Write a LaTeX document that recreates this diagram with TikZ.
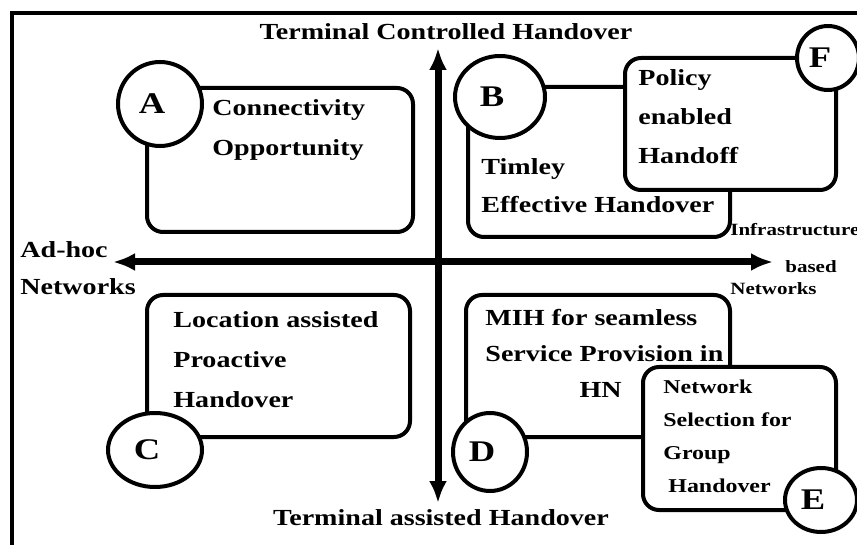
\documentclass[tikz,border=0pt]{standalone}
\usepackage{fontspec}
\setmainfont{Liberation Serif}[FakeStretch=1.22]
\usetikzlibrary{arrows.meta,shapes.geometric,fit}

\begin{document}
\begin{tikzpicture}[x=0.5pt, y=-0.5pt,
	txt/.style={font=\fontsize{11.5}{20}\selectfont\bfseries, inner sep=0, align=left, anchor=west},
	txtE/.style={font=\fontsize{9.8}{16.5}\selectfont\bfseries, inner sep=0, align=left, anchor=west},
	smalltxt/.style={font=\fontsize{8.6}{14}\selectfont\bfseries, inner sep=0, anchor=west},
	axistxt/.style={font=\fontsize{11.5}{20}\selectfont\bfseries, inner sep=0},
	area/.style={draw, line width=2pt, rounded corners=8pt, fill=white, inner sep=0},
	ring/.style={ellipse, draw, line width=2pt, fill=white, inner sep=0},
	letter/.style={font=\fontsize{15}{15}\selectfont\bfseries, xshift=-4pt},
	axis/.style={line width=3.5pt, {Latex[length=11pt,width=9pt]}-{Latex[length=11pt,width=9pt]}}
]
\useasboundingbox (0,0) rectangle (857,545);
% frame (cut at right and bottom)
\draw[line width=2.2pt] (12,570) |- (880,13);

% axes
\coordinate (west) at (113,262);
\coordinate (east) at (773,262);
\coordinate (north) at (438,48);
\coordinate (south) at (438,503);
\draw[axis] (west) -- (east);
\draw[axis] (north) -- (south);
\node[axistxt] (ctrl) at (446,32) {Terminal Controlled Handover};
\node[axistxt] (assist) at (441,518) {Terminal assisted Handover};
\node[txt, font=\fontsize{11.5}{18.5}\selectfont\bfseries] (adhoc) at (20,268) {Ad-hoc\\Networks};
\node[smalltxt] (infra) at (730,230) {Infrastructure};
\node[smalltxt] (based) at (785,267) {based};
\node[smalltxt] (netR) at (730,289) {Networks};

% quadrant boxes
\node[area, fit={(147,88) (413,232)}] (boxA) {};
\node[area, fit={(468,87) (730,237)}] (boxB) {};
\node[area, fit={(625,58) (836,190)}] (boxF) {};
\node[area, fit={(147,295) (410,437)}] (boxC) {};
\node[area, fit={(466,295) (730,437)}] (boxD) {};
\node[area, fit={(643,367) (836,510)}] (boxE) {};

\node[ring, minimum width=42pt, minimum height=42pt, label={[letter]center:A}] (ringA) at (160,104) {};
\node[ring, minimum width=45pt, minimum height=41pt, label={[letter]center:B}] (ringB) at (500,97) {};
\node[ring, minimum width=31pt, minimum height=32pt, label={[letter]center:F}] (ringF) at (828,58) {};
\node[ring, minimum width=47pt, minimum height=37pt, label={[letter]center:C}] (ringC) at (155,450) {};
\node[ring, minimum width=37pt, minimum height=39pt, label={[letter]center:D}] (ringD) at (490,452) {};
\node[ring, minimum width=36pt, minimum height=32pt, label={[letter]center:E}] (ringE) at (821,500) {};

\node[txt] (tA) at (212,130) {Connectivity\\Opportunity};
\node[txt, font=\fontsize{11.5}{19}\selectfont\bfseries] (tB) at (481,186) {Timley\\Effective Handover};
\node[txt, font=\fontsize{11.5}{19.5}\selectfont\bfseries] (tF) at (638,117) {Policy\\enabled\\Handoff};
\node[txt] (tC) at (173,360) {Location assisted\\Proactive\\Handover};
\node[txt, font=\fontsize{11.5}{18}\selectfont\bfseries] (tD) at (485,354) {MIH for seamless\\Service Provision in\\\phantom{Service }HN};
\node[txtE] (tE) at (663,436) {Network\\Selection for\\Group\\\hspace*{2.5pt}Handover};
\end{tikzpicture}
\end{document}
